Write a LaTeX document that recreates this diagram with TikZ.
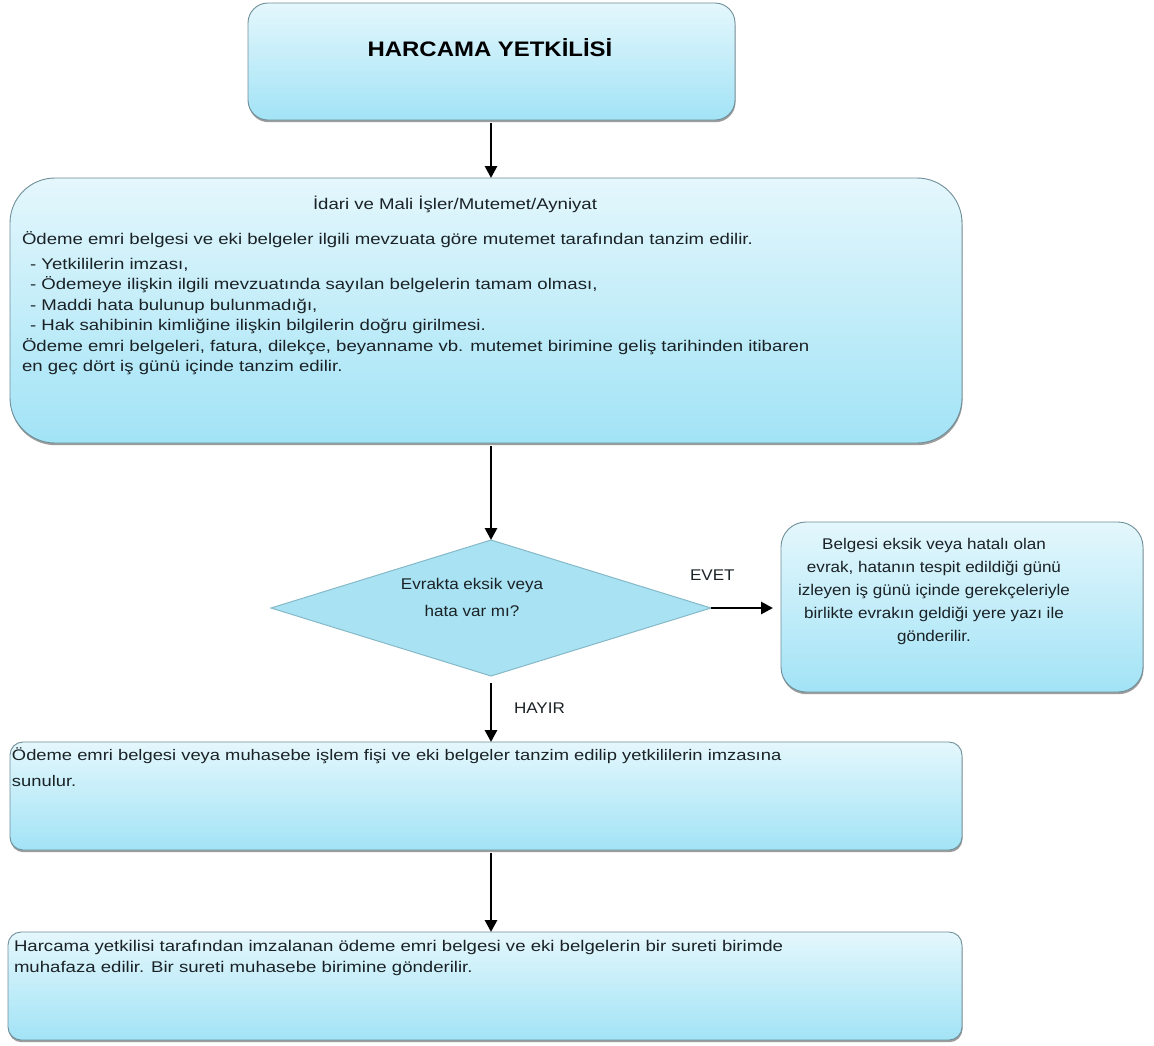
\documentclass[tikz,border=0pt]{standalone}
\usepackage{fontspec}
\setmainfont{Liberation Sans}
\newfontfamily\widesans[FakeStretch=1.2]{Liberation Sans}
\newfontfamily\midsans[FakeStretch=1.1]{Liberation Sans}
\newfontfamily\titlesans[FakeStretch=1.14]{Liberation Sans}
\usetikzlibrary{shapes.geometric,arrows.meta,shadows}
\definecolor{boxtop}{HTML}{E4F7FC}
\definecolor{boxbot}{HTML}{A2E3F6}
\definecolor{boxline}{HTML}{6F8E98}
\definecolor{diafill}{HTML}{A9E2F2}
\definecolor{dialine}{HTML}{86B9C8}
\definecolor{txt}{HTML}{1A2226}
\begin{document}
\begin{tikzpicture}[x=1pt,y=-1pt,
  box/.style={draw=boxline, line width=0.9pt, top color=boxtop, bottom color=boxbot,
    inner sep=0pt, outer sep=0pt,
    drop shadow={shadow xshift=0.5pt, shadow yshift=-2.2pt, opacity=0.55, fill=black!70}},
  decision/.style={diamond, draw=dialine, line width=1pt, fill=diafill, inner sep=0pt,
    outer sep=0pt, aspect=3.2},
  txtnode/.style={inner sep=0pt, outer sep=0pt, text=txt, font=\widesans\fontsize{15.5}{20.5}\selectfont},
  midtxt/.style={txtnode, font=\midsans\fontsize{15.5}{23}\selectfont},
  flow/.style={-{Triangle[length=12pt,width=12pt]}, line width=2.8pt, black}
]
\useasboundingbox (0,0) rectangle (1154,1045);

% process boxes
\node[box, rounded corners=20pt, minimum width=487pt, minimum height=117pt] (head) at (491.5,61.5) {};
\node[box, rounded corners=45pt, minimum width=952pt, minimum height=265pt] (prep) at (486,310.5) {};
\node[decision, minimum width=440pt, minimum height=136pt] (check) at (491,608) {};
\node[box, rounded corners=25pt, minimum width=362pt, minimum height=170pt] (back) at (962,607) {};
\node[box, rounded corners=13pt, minimum width=952pt, minimum height=108pt] (sign) at (486,796) {};
\node[box, rounded corners=13pt, minimum width=954pt, minimum height=108pt] (keep) at (485,986) {};

% texts
\node[txtnode, font=\titlesans\fontsize{21}{24}\selectfont\bfseries, text=black, anchor=base] (headtxt) at (490,56) {HARCAMA YETKİLİSİ};
\node[txtnode, anchor=base] (preptitle) at (455,209) {İdari ve Mali İşler/Mutemet/Ayniyat};
\node[txtnode, anchor=north west, align=left] (preptxt) at (22,232)
{Ödeme emri belgesi ve eki belgeler ilgili mevzuata göre mutemet tarafından tanzim edilir.\\[4pt]
\hspace*{8pt}- Yetkililerin imzası,\\
\hspace*{8pt}- Ödemeye ilişkin ilgili mevzuatında sayılan belgelerin tamam olması,\\
\hspace*{8pt}- Maddi hata bulunup bulunmadığı,\\
\hspace*{8pt}- Hak sahibinin kimliğine ilişkin bilgilerin doğru girilmesi.\\
Ödeme emri belgeleri, fatura, dilekçe, beyanname vb. mutemet birimine geliş tarihinden itibaren\\
en geç dört iş günü içinde tanzim edilir.};
\node[midtxt, align=center, anchor=north] (checktxt) at (472,578)
{Evrakta eksik veya\\[4pt]hata var mı?};
\node[midtxt, align=center, anchor=north] (backtxt) at (934,538)
{Belgesi eksik veya hatalı olan\\
evrak, hatanın tespit edildiği günü\\
izleyen iş günü içinde gerekçeleriyle\\
birlikte evrakın geldiği yere yazı ile\\
gönderilir.};
\node[txtnode, anchor=north west, align=left, font=\widesans\fontsize{15.3}{26}\selectfont] (signtxt) at (12,748)
{Ödeme emri belgesi veya muhasebe işlem fişi ve eki belgeler tanzim edilip yetkililerin imzasına\\
sunulur.};
\node[txtnode, anchor=north west, align=left, font=\widesans\fontsize{15.5}{21}\selectfont] (keeptxt) at (14,940)
{Harcama yetkilisi tarafından imzalanan ödeme emri belgesi ve eki belgelerin bir sureti birimde\\
muhafaza edilir. Bir sureti muhasebe birimine gönderilir.};

% connectors
\coordinate (a1) at (491,123);
\coordinate (a2) at (491,446);
\coordinate (a3) at (491,683);
\coordinate (a4) at (491,853);
\draw[flow] (a1) -- (a1 |- prep.north);
\draw[flow] (a2) -- (check.north);
\draw[flow, shorten >=8pt] (check.east) -- (check.east -| back.west);
\draw[flow] (a3) -- (a3 |- sign.north);
\draw[flow] (a4) -- (a4 |- keep.north);
\node[midtxt, anchor=base west] (yes) at (690,580) {EVET};
\node[midtxt, anchor=base west] (no) at (514,713) {HAYIR};
\end{tikzpicture}
\end{document}
